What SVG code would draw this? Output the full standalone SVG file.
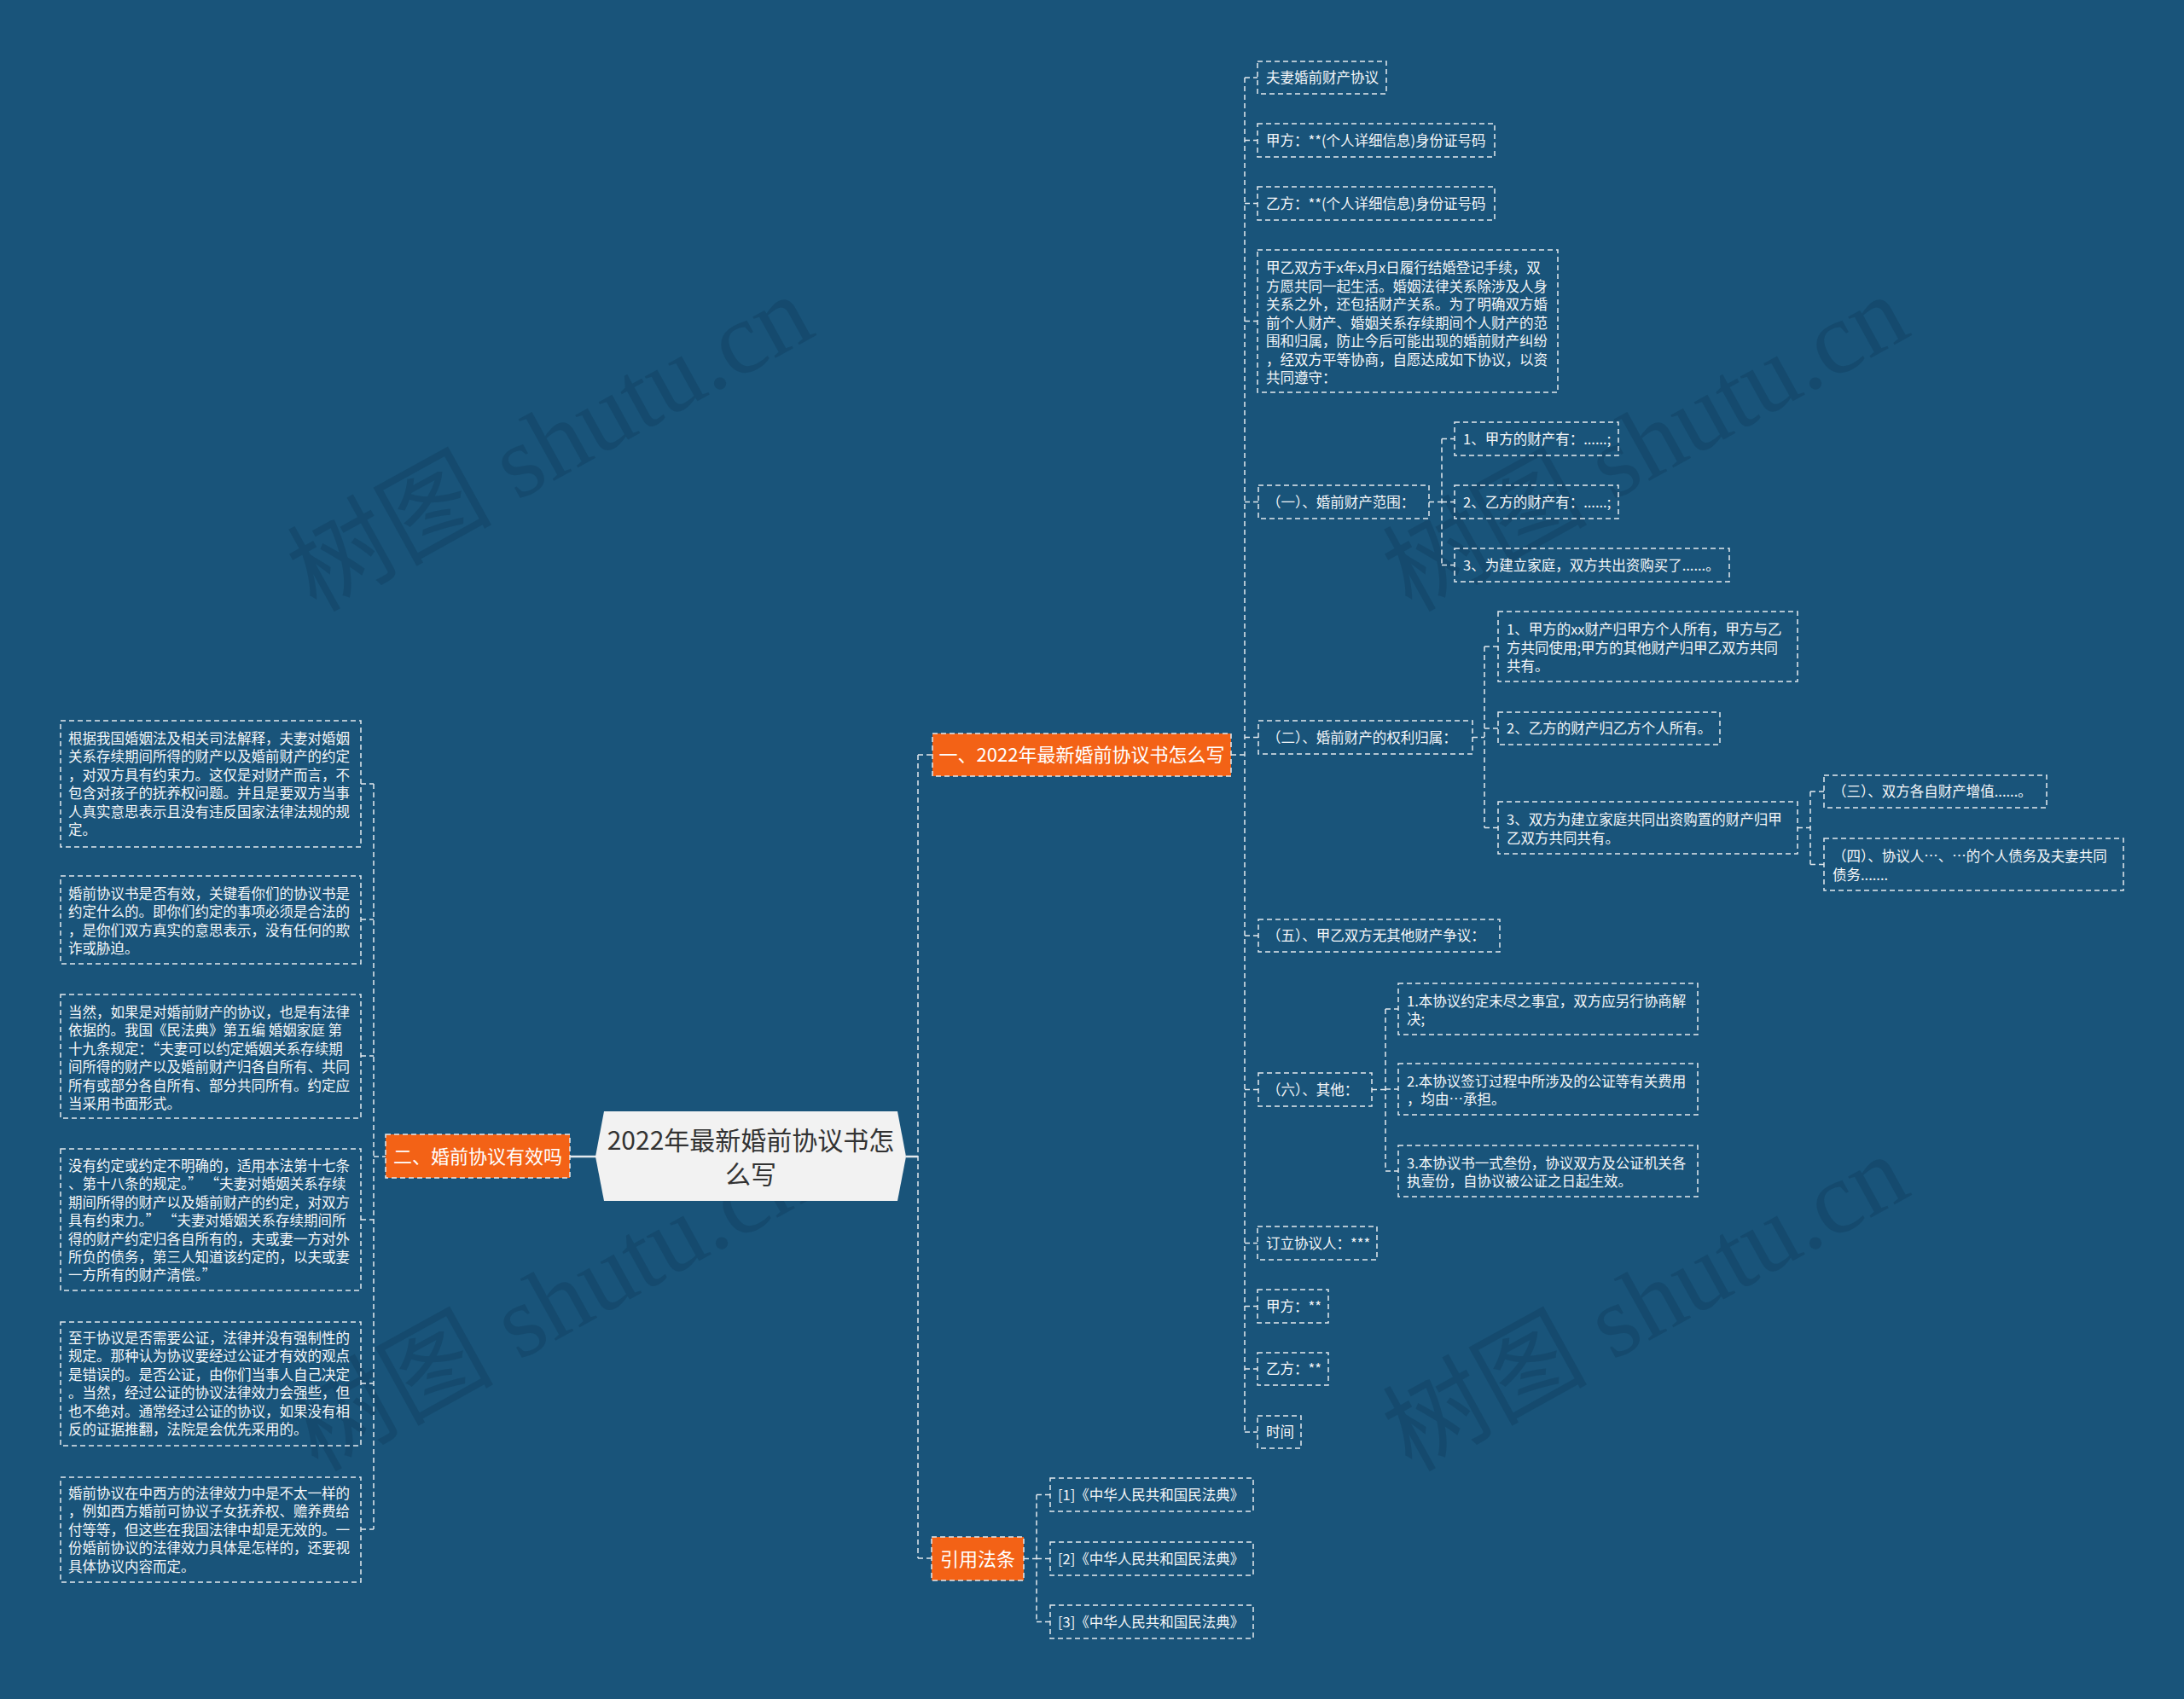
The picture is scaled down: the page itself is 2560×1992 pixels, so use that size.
<svg xmlns="http://www.w3.org/2000/svg" width="2560" height="1992" viewBox="0 0 2560 1992">
<style>
.bx{fill:none;stroke:#e3e9ee;stroke-width:1.5;stroke-dasharray:6 4}
.ob{fill:#f36216;stroke:#e3e9ee;stroke-width:1.5;stroke-dasharray:6 4}
.ln{fill:none;stroke:#e3e9ee;stroke-width:1.5;stroke-dasharray:6 4}
.sl{fill:none;stroke:#e3e9ee;stroke-width:2.5}
.t{font-family:"Noto Sans CJK SC","Noto Sans",sans-serif;font-size:16.5px;fill:#f4f6f8}
.mt{font-family:"Noto Sans CJK SC","Noto Sans",sans-serif;font-size:22px;fill:#ffffff}
.rt{font-family:"Noto Sans CJK SC","Noto Sans",sans-serif;font-size:30px;fill:#333333}
.wm{font-family:"Liberation Serif","Noto Sans CJK SC",serif;font-size:120px;fill:#0a3350;fill-opacity:0.28}
</style>
<rect x="0" y="0" width="2560" height="1992" fill="#19547a"/>

<g id="watermarks">
<text class="wm" x="646" y="560" text-anchor="middle" transform="rotate(-29 646 522)">树图 shutu.cn</text>
<text class="wm" x="1930" y="560" text-anchor="middle" transform="rotate(-29 1930 522)">树图 shutu.cn</text>
<text class="wm" x="648" y="1568" text-anchor="middle" transform="rotate(-29 648 1530)">树图 shutu.cn</text>
<text class="wm" x="1930" y="1568" text-anchor="middle" transform="rotate(-29 1930 1530)">树图 shutu.cn</text>
</g>

<g id="connectors">
<path class="sl" d="M699 1356H668M1062 1356H1076"/>
<path class="ln" d="M438 919V1793M423 919H438M423 1078H438M423 1238H438M423 1430H438M423 1622H438M423 1793H438M438 1356H452"/>
<path class="ln" d="M1076 885V1827M1076 885H1093M1076 1827H1092"/>
<path class="ln" d="M1443 885H1459M1459 91V1679M1459 91H1474M1459 164.5H1474M1459 238.5H1474M1459 376.5H1474M1459 588.5H1475M1459 864.5H1475M1459 1097H1475M1459 1277.5H1475M1459 1457.5H1474M1459 1531.5H1474M1459 1605H1474M1459 1679H1474"/>
<path class="ln" d="M1675 588.5H1690M1690 514.5V662.5M1690 514.5H1705M1690 588.5H1705M1690 662.5H1705"/>
<path class="ln" d="M1726 864.5H1740M1740 758V970.5M1740 758H1756M1740 854H1756M1740 970.5H1756"/>
<path class="ln" d="M2107 970.5H2122M2122 928V1013.5M2122 928H2138M2122 1013.5H2138"/>
<path class="ln" d="M1608 1277.5H1624M1624 1183V1373M1624 1183H1639M1624 1277H1639M1624 1373H1639"/>
<path class="ln" d="M1200 1827.5H1215M1215 1752.5V1901.5M1215 1752.5H1231M1215 1827.5H1231M1215 1901.5H1231"/>
</g>

<g id="root">
<polygon points="708,1303 1052,1303 1062,1356 1052,1408 708,1408 698,1356" fill="#f2f2f2"/>
<text class="rt" x="880" y="1348" text-anchor="middle">2022年最新婚前协议书怎</text>
<text class="rt" x="880" y="1388" text-anchor="middle">么写</text>
</g>

<g id="n1">
<rect class="ob" x="1093" y="860" width="350" height="50"/>
<text class="mt" x="1268" y="893" text-anchor="middle">一、2022年最新婚前协议书怎么写</text>
</g>
<g id="n2">
<rect class="ob" x="452" y="1330" width="216" height="51"/>
<text class="mt" x="560" y="1363.5" text-anchor="middle">二、婚前协议有效吗</text>
</g>
<g id="n3">
<rect class="ob" x="1092" y="1802" width="108" height="51"/>
<text class="mt" x="1146" y="1835.5" text-anchor="middle">引用法条</text>
</g>

<g id="r1"><rect class="bx" x="1474" y="72" width="151" height="38"/><text class="t" x="1484" y="97">夫妻婚前财产协议</text></g>
<g id="r2"><rect class="bx" x="1474" y="145" width="278" height="39"/><text class="t" x="1484" y="170.5">甲方：**(个人详细信息)身份证号码</text></g>
<g id="r3"><rect class="bx" x="1474" y="219" width="278" height="39"/><text class="t" x="1484" y="244.5">乙方：**(个人详细信息)身份证号码</text></g>
<g id="r4"><rect class="bx" x="1474" y="293" width="352" height="167"/>
<text class="t" x="1484" y="320"><tspan x="1484">甲乙双方于x年x月x日履行结婚登记手续，双</tspan><tspan x="1484" dy="21.5">方愿共同一起生活。婚姻法律关系除涉及人身</tspan><tspan x="1484" dy="21.5">关系之外，还包括财产关系。为了明确双方婚</tspan><tspan x="1484" dy="21.5">前个人财产、婚姻关系存续期间个人财产的范</tspan><tspan x="1484" dy="21.5">围和归属，防止今后可能出现的婚前财产纠纷</tspan><tspan x="1484" dy="21.5">，经双方平等协商，自愿达成如下协议，以资</tspan><tspan x="1484" dy="21.5">共同遵守：</tspan></text></g>

<g id="r5"><rect class="bx" x="1475" y="569" width="200" height="39"/><text class="t" x="1485" y="594.5">（一）、婚前财产范围：</text></g>
<g id="r5a"><rect class="bx" x="1705" y="495" width="192" height="39"/><text class="t" x="1715" y="520.5">1、甲方的财产有：......;</text></g>
<g id="r5b"><rect class="bx" x="1705" y="569" width="192" height="39"/><text class="t" x="1715" y="594.5">2、乙方的财产有：......;</text></g>
<g id="r5c"><rect class="bx" x="1705" y="643" width="322" height="39"/><text class="t" x="1715" y="668.5">3、为建立家庭，双方共出资购买了......。</text></g>

<g id="r6"><rect class="bx" x="1475" y="845" width="251" height="39"/><text class="t" x="1485" y="870.5">（二）、婚前财产的权利归属：</text></g>
<g id="r6a"><rect class="bx" x="1756" y="717" width="351" height="82"/>
<text class="t" x="1766" y="744"><tspan x="1766">1、甲方的xx财产归甲方个人所有，甲方与乙</tspan><tspan x="1766" dy="21.5">方共同使用;甲方的其他财产归甲乙双方共同</tspan><tspan x="1766" dy="21.5">共有。</tspan></text></g>
<g id="r6b"><rect class="bx" x="1756" y="835" width="260" height="38"/><text class="t" x="1766" y="860">2、乙方的财产归乙方个人所有。</text></g>
<g id="r6c"><rect class="bx" x="1756" y="940" width="351" height="61"/>
<text class="t" x="1766" y="967"><tspan x="1766">3、双方为建立家庭共同出资购置的财产归甲</tspan><tspan x="1766" dy="21.5">乙双方共同共有。</tspan></text></g>
<g id="r6c1"><rect class="bx" x="2138" y="909" width="261" height="38"/><text class="t" x="2148" y="934">（三）、双方各自财产增值......。</text></g>
<g id="r6c2"><rect class="bx" x="2138" y="983" width="351" height="61"/>
<text class="t" x="2148" y="1010"><tspan x="2148">（四）、协议人…、…的个人债务及夫妻共同</tspan><tspan x="2148" dy="21.5">债务.......</tspan></text></g>

<g id="r7"><rect class="bx" x="1475" y="1078" width="283" height="38"/><text class="t" x="1485" y="1103">（五）、甲乙双方无其他财产争议：</text></g>
<g id="r8"><rect class="bx" x="1475" y="1258" width="133" height="39"/><text class="t" x="1485" y="1283.5">（六）、其他：</text></g>
<g id="r8a"><rect class="bx" x="1639" y="1153" width="351" height="60"/>
<text class="t" x="1649" y="1179.5"><tspan x="1649">1.本协议约定未尽之事宜，双方应另行协商解</tspan><tspan x="1649" dy="21.5">决;</tspan></text></g>
<g id="r8b"><rect class="bx" x="1639" y="1247" width="351" height="60"/>
<text class="t" x="1649" y="1273.5"><tspan x="1649">2.本协议签订过程中所涉及的公证等有关费用</tspan><tspan x="1649" dy="21.5">，均由…承担。</tspan></text></g>
<g id="r8c"><rect class="bx" x="1639" y="1343" width="351" height="60"/>
<text class="t" x="1649" y="1369.5"><tspan x="1649">3.本协议书一式叁份，协议双方及公证机关各</tspan><tspan x="1649" dy="21.5">执壹份，自协议被公证之日起生效。</tspan></text></g>

<g id="r9"><rect class="bx" x="1474" y="1438" width="140" height="39"/><text class="t" x="1484" y="1463.5">订立协议人：***</text></g>
<g id="r10"><rect class="bx" x="1474" y="1512" width="83" height="39"/><text class="t" x="1484" y="1537.5">甲方：**</text></g>
<g id="r11"><rect class="bx" x="1474" y="1586" width="83" height="38"/><text class="t" x="1484" y="1611">乙方：**</text></g>
<g id="r12"><rect class="bx" x="1474" y="1660" width="51" height="38"/><text class="t" x="1484" y="1685">时间</text></g>

<g id="c1"><rect class="bx" x="1231" y="1733" width="238" height="39"/><text class="t" x="1240" y="1758.5">[1]《中华人民共和国民法典》</text></g>
<g id="c2"><rect class="bx" x="1231" y="1808" width="238" height="39"/><text class="t" x="1240" y="1833.5">[2]《中华人民共和国民法典》</text></g>
<g id="c3"><rect class="bx" x="1231" y="1882" width="238" height="39"/><text class="t" x="1240" y="1907.5">[3]《中华人民共和国民法典》</text></g>

<g id="l1"><rect class="bx" x="71" y="845" width="352" height="148"/>
<text class="t" x="80" y="872"><tspan x="80">根据我国婚姻法及相关司法解释，夫妻对婚姻</tspan><tspan x="80" dy="21.4">关系存续期间所得的财产以及婚前财产的约定</tspan><tspan x="80" dy="21.4">，对双方具有约束力。这仅是对财产而言，不</tspan><tspan x="80" dy="21.4">包含对孩子的抚养权问题。并且是要双方当事</tspan><tspan x="80" dy="21.4">人真实意思表示且没有违反国家法律法规的规</tspan><tspan x="80" dy="21.4">定。</tspan></text></g>
<g id="l2"><rect class="bx" x="71" y="1027" width="352" height="103"/>
<text class="t" x="80" y="1054"><tspan x="80">婚前协议书是否有效，关键看你们的协议书是</tspan><tspan x="80" dy="21.4">约定什么的。即你们约定的事项必须是合法的</tspan><tspan x="80" dy="21.4">，是你们双方真实的意思表示，没有任何的欺</tspan><tspan x="80" dy="21.4">诈或胁迫。</tspan></text></g>
<g id="l3"><rect class="bx" x="71" y="1166" width="352" height="145"/>
<text class="t" x="80" y="1193"><tspan x="80">当然，如果是对婚前财产的协议，也是有法律</tspan><tspan x="80" dy="21.4">依据的。我国《民法典》第五编 婚姻家庭 第</tspan><tspan x="80" dy="21.4">十九条规定：“夫妻可以约定婚姻关系存续期</tspan><tspan x="80" dy="21.4">间所得的财产以及婚前财产归各自所有、共同</tspan><tspan x="80" dy="21.4">所有或部分各自所有、部分共同所有。约定应</tspan><tspan x="80" dy="21.4">当采用书面形式。</tspan></text></g>
<g id="l4"><rect class="bx" x="71" y="1347" width="352" height="166"/>
<text class="t" x="80" y="1373"><tspan x="80">没有约定或约定不明确的，适用本法第十七条</tspan><tspan x="80" dy="21.4">、第十八条的规定。”  “夫妻对婚姻关系存续</tspan><tspan x="80" dy="21.4">期间所得的财产以及婚前财产的约定，对双方</tspan><tspan x="80" dy="21.4">具有约束力。”  “夫妻对婚姻关系存续期间所</tspan><tspan x="80" dy="21.4">得的财产约定归各自所有的，夫或妻一方对外</tspan><tspan x="80" dy="21.4">所负的债务，第三人知道该约定的，以夫或妻</tspan><tspan x="80" dy="21.4">一方所有的财产清偿。”</tspan></text></g>
<g id="l5"><rect class="bx" x="71" y="1550" width="352" height="145"/>
<text class="t" x="80" y="1575"><tspan x="80">至于协议是否需要公证，法律并没有强制性的</tspan><tspan x="80" dy="21.4">规定。那种认为协议要经过公证才有效的观点</tspan><tspan x="80" dy="21.4">是错误的。是否公证，由你们当事人自己决定</tspan><tspan x="80" dy="21.4">。当然，经过公证的协议法律效力会强些，但</tspan><tspan x="80" dy="21.4">也不绝对。通常经过公证的协议，如果没有相</tspan><tspan x="80" dy="21.4">反的证据推翻，法院是会优先采用的。</tspan></text></g>
<g id="l6"><rect class="bx" x="71" y="1732" width="352" height="123"/>
<text class="t" x="80" y="1757"><tspan x="80">婚前协议在中西方的法律效力中是不太一样的</tspan><tspan x="80" dy="21.4">，例如西方婚前可协议子女抚养权、赡养费给</tspan><tspan x="80" dy="21.4">付等等，但这些在我国法律中却是无效的。一</tspan><tspan x="80" dy="21.4">份婚前协议的法律效力具体是怎样的，还要视</tspan><tspan x="80" dy="21.4">具体协议内容而定。</tspan></text></g>
</svg>
